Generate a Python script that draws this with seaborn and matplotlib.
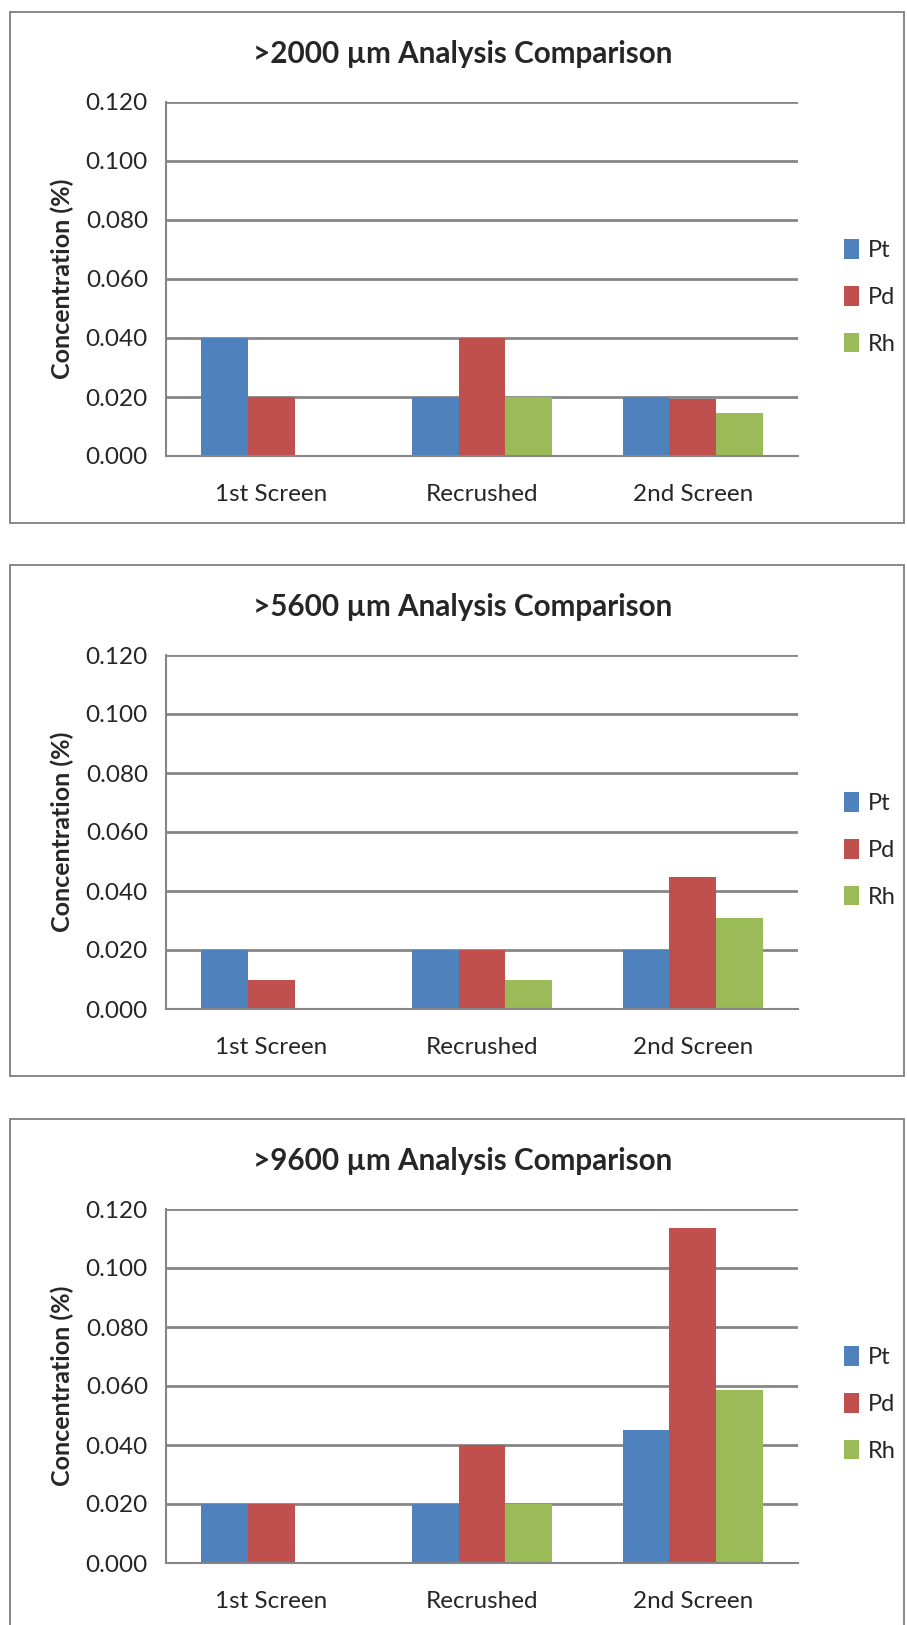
"""Three stacked grouped bar charts: PGM concentration per screening stage."""

import matplotlib

matplotlib.use("Agg")
import matplotlib.pyplot as plt  # noqa: E402
import pandas as pd  # noqa: E402
import seaborn as sns  # noqa: E402
from matplotlib.patches import Rectangle  # noqa: E402

STAGES = ["1st Screen", "Recrushed", "2nd Screen"]
METALS = ["Pt", "Pd", "Rh"]
COLORS = ["#4F81BD", "#C0504D", "#9BBB59"]
YTICKS = [0.0, 0.02, 0.04, 0.06, 0.08, 0.10, 0.12]

TITLES = [
    ">2000 µm Analysis Comparison",
    ">5600 µm Analysis Comparison",
    ">9600 µm Analysis Comparison",
]

# values per metal, in stage order
PT_2000 = [0.040, 0.020, 0.020]
PD_2000 = [0.020, 0.040, 0.0193]
RH_2000 = [0.0, 0.020, 0.0147]

PT_5600 = [0.020, 0.020, 0.020]
PD_5600 = [0.010, 0.020, 0.0448]
RH_5600 = [0.0, 0.010, 0.0307]

PT_9600 = [0.020, 0.020, 0.0450]
PD_9600 = [0.020, 0.040, 0.1136]
RH_9600 = [0.0, 0.020, 0.0587]

PANELS = [
    (PT_2000, PD_2000, RH_2000),
    (PT_5600, PD_5600, RH_5600),
    (PT_9600, PD_9600, RH_9600),
]

W, H = 907, 1625
PANEL_TOPS = [12, 565, 1119]
GRID = "#868686"

sns.set_theme(style="white")
plt.rcParams["font.family"] = ["Lato", "DejaVu Sans"]


def long_frame(pt, pd_, rh):
    rows = []
    for metal, vals in zip(METALS, (pt, pd_, rh)):
        for stage, v in zip(STAGES, vals):
            rows.append({"stage": stage, "metal": metal, "value": v})
    return pd.DataFrame(rows)


fig = plt.figure(figsize=(W / 100, H / 100), dpi=100)

for top, title, series in zip(PANEL_TOPS, TITLES, PANELS):
    # outer chart border
    fig.patches.append(
        Rectangle((10 / W, 1 - (top + 511) / H), 894 / W, 511 / H,
                  transform=fig.transFigure, fill=False,
                  edgecolor="#7f7f7f", linewidth=1.3)
    )

    ax_top = top + 90
    ax_h = 354
    ax = fig.add_axes([166 / W, 1 - (ax_top + ax_h) / H, 632 / W, ax_h / H])
    df = long_frame(*series)
    sns.barplot(data=df, x="stage", y="value", hue="metal", order=STAGES,
                hue_order=METALS, palette=COLORS, width=0.664, gap=0,
                errorbar=None, linewidth=0, saturation=1, ax=ax, zorder=3)

    ax.set_ylim(0, 0.12)
    ax.set_xlim(-0.5, 2.5)
    ax.set_yticks(YTICKS)
    ax.set_yticklabels([f"{v:.3f}" for v in YTICKS], fontsize=17.5)
    ax.set_xticks([-0.5, 0.5, 1.5, 2.5], minor=False)
    ax.set_xticklabels([])
    ax.set_xticks([0, 1, 2], minor=True)
    ax.set_xticklabels(STAGES, minor=True, fontsize=17.5)
    ax.tick_params(axis="x", which="minor", length=0, pad=20)
    ax.tick_params(axis="x", which="major", length=7, width=1.5, color=GRID,
                   direction="out")
    ax.tick_params(axis="y", length=7, width=1.5, color=GRID, direction="out",
                   pad=6)
    ax.yaxis.grid(True, color=GRID, linewidth=2)
    ax.set_axisbelow(True)
    for side in ("top", "right"):
        ax.spines[side].set_visible(False)
    for side in ("left", "bottom"):
        ax.spines[side].set_color(GRID)
        ax.spines[side].set_linewidth(1.5)
    ax.spines["bottom"].set_zorder(4)

    ax.set_xlabel("")
    ax.set_ylabel("Concentration (%)", fontsize=18, fontweight="bold")
    ax.yaxis.set_label_coords(-0.145, 0.5)

    fig.text(463 / W, 1 - (top + 42) / H, title, ha="center", va="center",
             fontsize=21.3, fontweight="bold")

    handles, labels = ax.get_legend_handles_labels()
    ax.legend(handles, labels, loc="center left",
              bbox_to_anchor=(835 / W, 1 - (top + 285) / H),
              bbox_transform=fig.transFigure, frameon=False, fontsize=17,
              handlelength=0.6, handleheight=0.9, handletextpad=0.4,
              labelspacing=1.05, borderaxespad=0)

fig.savefig("out.png", dpi=100)
